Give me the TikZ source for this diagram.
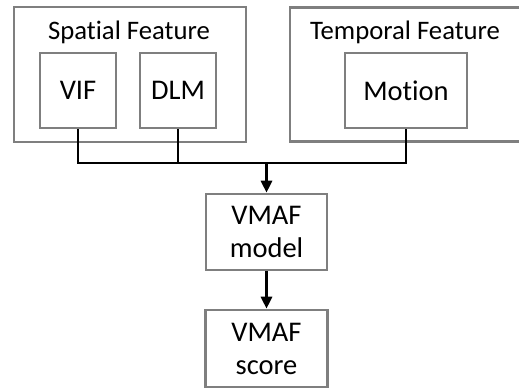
\documentclass[tikz,border=0pt]{standalone}
\usepackage{fontspec}
\setmainfont{Carlito}[Ligatures=CommonOff]
\usetikzlibrary{arrows.meta}
\definecolor{boxgray}{HTML}{7F7F7F}
\tikzset{
  frame/.style={draw=boxgray, line width=2.6pt, fill=white, inner sep=0pt},
  head/.style={font=\fontsize{26.7}{32}\selectfont, inner sep=0pt},
  lbl/.style={font=\fontsize{28.5}{33}\selectfont, align=center, inner sep=0pt},
  wire/.style={draw=black, line width=2.8pt},
  tip/.style={-{Triangle[length=12pt, width=11pt]}}
}
\begin{document}
\begin{tikzpicture}[x=1pt, y=-1pt]
  \useasboundingbox (0,0) rectangle (519,389);
  \clip (0,0) rectangle (519,389);
  % feature groups
  \node[frame, minimum width=232pt, minimum height=135pt] (spatial) at (130,74.5) {};
  \node[frame, minimum width=238pt, minimum height=134pt] (temporal) at (409,74.5) {};
  \node[head, anchor=base] (spatialtxt) at (129,39) {Spatial Feature};
  \node[head, anchor=base] (temporaltxt) at (405,39) {Temporal Feature};
  % individual features
  \node[frame, lbl, minimum width=76pt, minimum height=75pt] (vif) at (78,90.5) {VIF};
  \node[frame, lbl, minimum width=76pt, minimum height=75pt] (dlm) at (178,90.5) {DLM};
  \node[frame, lbl, minimum width=122pt, minimum height=75pt] (motion) at (406,90.5) {Motion};
  % model and output
  \node[frame, lbl, minimum width=121pt, minimum height=76pt] (model) at (266.5,232) {VMAF\\model};
  \node[frame, lbl, minimum width=122pt, minimum height=77pt] (score) at (266.5,348.5) {VMAF\\score};
  % feature bus
  \coordinate (bus) at (266.5,163);
  \draw[wire] (vif.south) |- (bus) -| (motion.south);
  \draw[wire] (dlm.south) -- (dlm.south |- bus);
  \draw[wire, tip] (bus) -- (model.north);
  \draw[wire, tip] (model.south) -- (score.north);
\end{tikzpicture}
\end{document}
